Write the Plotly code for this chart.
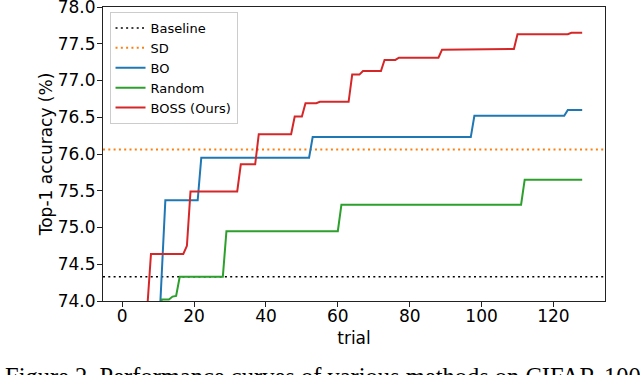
import plotly.graph_objects as go

# ---- data ----
baseline_value = 74.33
sd_value = 76.06

bo_trials = [1, 10, 11, 12, 21, 22, 52, 53, 97, 98, 123, 124, 128]
bo_values = [73.0, 73.37, 74.37, 75.37, 75.37, 75.95, 75.95, 76.23, 76.23, 76.52, 76.52, 76.60, 76.60]

random_trials = [1, 10, 11, 13, 14, 15, 16, 28, 29, 60, 61, 111, 112, 128]
random_values = [73.5, 73.5, 74.02, 74.02, 74.06, 74.07, 74.33, 74.33, 74.95, 74.95, 75.31, 75.31, 75.65, 75.65]

boss_trials = [1, 6, 7, 8, 17, 18, 19, 32, 33, 37,
               38, 47, 48, 50, 51, 54, 55, 63, 64, 66,
               67, 72, 73, 76, 77, 88, 89, 90, 91, 109,
               110, 124, 125, 128]
boss_values = [73.5, 73.5, 73.93, 74.64, 74.64, 74.75, 75.49, 75.49, 75.86, 75.86,
               76.27, 76.27, 76.51, 76.51, 76.69, 76.69, 76.71, 76.71, 77.08, 77.08,
               77.13, 77.13, 77.28, 77.28, 77.31, 77.31, 77.42, 77.42, 77.43, 77.43,
               77.63, 77.63, 77.65, 77.65]

x_ticks = [0, 20, 40, 60, 80, 100, 120]
y_ticks = [74.0, 74.5, 75.0, 75.5, 76.0, 76.5, 77.0, 77.5, 78.0]
x_range = [-5.35, 134.35]
y_range = [74.0, 78.0]

caption = "Figure 2. Performance curves of various methods on CIFAR-100"

# ---- figure ----
FONT = "DejaVu Sans"
dotted = "2px,3.3px"

fig = go.Figure()
fig.add_trace(go.Scatter(x=x_range, y=[baseline_value, baseline_value], mode="lines",
                         name="Baseline", line=dict(color="black", width=1.6, dash=dotted)))
fig.add_trace(go.Scatter(x=x_range, y=[sd_value, sd_value], mode="lines",
                         name="SD", line=dict(color="#ff7f0e", width=2, dash=dotted)))
fig.add_trace(go.Scatter(x=bo_trials, y=bo_values, mode="lines", name="BO",
                         line=dict(color="#1f77b4", width=2)))
fig.add_trace(go.Scatter(x=random_trials, y=random_values, mode="lines", name="Random",
                         line=dict(color="#2ca02c", width=2)))
fig.add_trace(go.Scatter(x=boss_trials, y=boss_values, mode="lines", name="BOSS (Ours)",
                         line=dict(color="#d62728", width=2)))

axis_common = dict(showline=True, mirror=True, linecolor="#222", linewidth=1,
                   ticks="outside", ticklen=5, tickwidth=1, tickcolor="#222",
                   showgrid=False, zeroline=False, ticklabeloverflow="allow",
                   automargin=False,
                   tickfont=dict(family=FONT, size=17, color="black"))

fig.update_xaxes(range=x_range, tickvals=x_ticks, ticklabelstandoff=-5,
                 title=dict(text="trial", font=dict(family=FONT, size=17, color="black"), standoff=6),
                 **axis_common)
fig.update_yaxes(range=y_range, tickvals=y_ticks, tickformat=".1f", ticklabelstandoff=-2,
                 title=dict(text="Top-1 accuracy (%)", font=dict(family=FONT, size=17, color="black"), standoff=0),
                 **axis_common)

fig.add_annotation(text=caption, xref="paper", yref="paper", x=-0.199, y=-0.205,
                   xanchor="left", yanchor="top", showarrow=False,
                   font=dict(family="Liberation Serif", size=24.5, color="black"))

fig.update_layout(
    width=640, height=375,
    margin=dict(l=103, r=35, t=7, b=74, autoexpand=False),
    paper_bgcolor="white", plot_bgcolor="white",
    legend=dict(x=0.013, y=0.983, xanchor="left", yanchor="top",
                bgcolor="rgba(255,255,255,0.8)", bordercolor="#cccccc", borderwidth=1,
                font=dict(family=FONT, size=13, color="black"), tracegroupgap=0),
    showlegend=True,
)

fig.write_html("out.html", config={"displayModeBar": False},
               post_script="document.body.style.margin='0';")
